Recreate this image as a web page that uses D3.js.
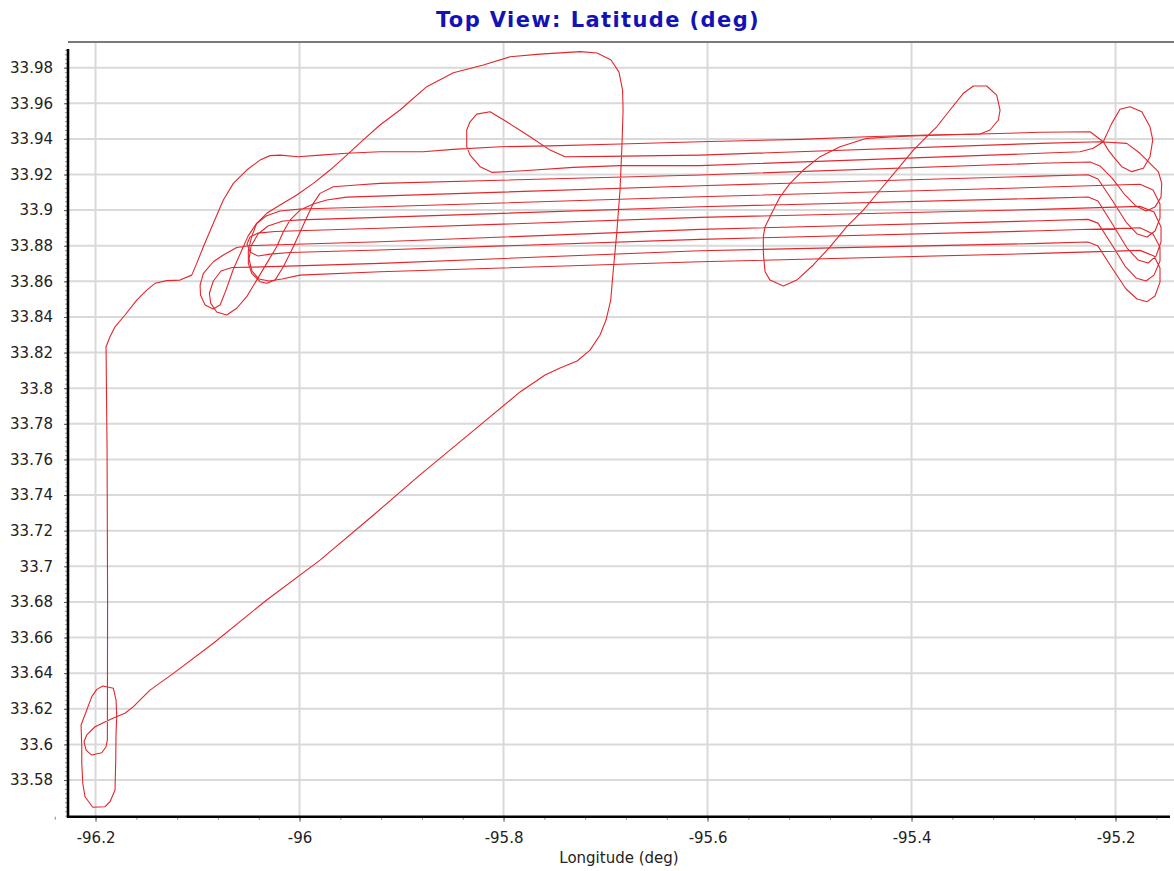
<!DOCTYPE html>
<html>
<head>
<meta charset="utf-8">
<script src="https://cdn.jsdelivr.net/npm/d3@7"></script>
<style>
  body { margin: 0; background: #fff; }
  svg text { font-family: "DejaVu Sans", Verdana, sans-serif; }
</style>
</head>
<body>
<svg id="chart" width="1174" height="871"></svg>
<script>
/*****************************/
/*** DATA (lon, lat in deg) ***/
/*****************************/
var xTickValues = [-96.2, -96, -95.8, -95.6, -95.4, -95.2];
var yTickValues = [33.58, 33.6, 33.62, 33.64, 33.66, 33.68, 33.7, 33.72, 33.74, 33.76, 33.78,
                   33.8, 33.82, 33.84, 33.86, 33.88, 33.9, 33.92, 33.94, 33.96, 33.98];
var lonExtent = [-96.227, -95.1466];
var latExtent = [33.5594, 33.9944];

//pattern flown round the field
var airportPattern = [
  [-96.1792, 33.6155], [-96.1799, 33.6062], [-96.1802, 33.5912], [-96.1809, 33.5744],
  [-96.1858, 33.5678], [-96.1907, 33.5650], [-96.2027, 33.5647], [-96.2103, 33.5706],
  [-96.2125, 33.5781], [-96.2135, 33.5894], [-96.2135, 33.5987], [-96.2142, 33.6109],
  [-96.2086, 33.6193], [-96.2037, 33.6268], [-96.1988, 33.6309], [-96.1929, 33.6328],
  [-96.1825, 33.6315], [-96.1799, 33.6249], [-96.1792, 33.6155]
];

//ferry legs + top lines of the survey
var ferryRoute = [
  [-95.9439, 33.9141], [-95.9669, 33.9131], [-95.9799, 33.9094], [-95.9865, 33.9038],
  [-95.9963, 33.8916], [-96.0061, 33.8794], [-96.0159, 33.8682], [-96.0240, 33.8607],
  [-96.0322, 33.8589], [-96.0387, 33.8598], [-96.0469, 33.8645], [-96.0502, 33.8701],
  [-96.0502, 33.8776], [-96.0469, 33.8851], [-96.0420, 33.8926], [-96.0322, 33.8982],
  [-96.0191, 33.9029], [-96.0027, 33.9085], [-95.9865, 33.9150], [-95.9701, 33.9225],
  [-95.9537, 33.9309], [-95.9375, 33.9394], [-95.9211, 33.9478], [-95.9015, 33.9562],
  [-95.8753, 33.9693], [-95.8492, 33.9771], [-95.8198, 33.9815], [-95.7936, 33.9861],
  [-95.7642, 33.9876], [-95.7250, 33.9890], [-95.7083, 33.9882], [-95.6946, 33.9843],
  [-95.6868, 33.9775], [-95.6833, 33.9674], [-95.6828, 33.9562], [-95.6838, 33.9377],
  [-95.6858, 33.9113], [-95.6890, 33.8871], [-95.6924, 33.8664], [-95.6949, 33.8495],
  [-95.6995, 33.8383], [-95.7054, 33.8299], [-95.7152, 33.8214], [-95.7279, 33.8153],
  [-95.7446, 33.8113], [-95.7593, 33.8074], [-95.7838, 33.7979], [-95.8230, 33.7793],
  [-95.8819, 33.7513], [-95.9309, 33.7271], [-95.9799, 33.7035], [-96.0322, 33.6811],
  [-96.0845, 33.6568], [-96.1237, 33.6399], [-96.1466, 33.6305], [-96.1629, 33.6212],
  [-96.1711, 33.6175], [-96.1809, 33.6152], [-96.1924, 33.6122], [-96.2005, 33.6099],
  [-96.2086, 33.6053], [-96.2113, 33.6015], [-96.2093, 33.5968], [-96.2037, 33.5940],
  [-96.1939, 33.5953], [-96.1897, 33.5987], [-96.1884, 33.6025], [-96.1882, 33.6811],
  [-96.1887, 33.7653], [-96.1897, 33.8233], [-96.1858, 33.8289], [-96.1809, 33.8345],
  [-96.1711, 33.8411], [-96.1596, 33.8495], [-96.1498, 33.8551], [-96.1417, 33.8589],
  [-96.1302, 33.8604], [-96.1172, 33.8607], [-96.1057, 33.8635], [-96.1008, 33.8701],
  [-96.0943, 33.8794], [-96.0845, 33.8926], [-96.0747, 33.9057], [-96.0649, 33.9150],
  [-96.0518, 33.9225], [-96.0387, 33.9281], [-96.0289, 33.9306], [-96.0191, 33.9309],
  [-96.0012, 33.9300], [-95.9799, 33.9309], [-95.9537, 33.9319], [-95.9211, 33.9328],
  [-95.8789, 33.9328], [-95.8495, 33.9341], [-95.8034, 33.9356], [-95.7544, 33.9361],
  [-95.6858, 33.9371], [-95.6074, 33.9384], [-95.5093, 33.9397], [-95.4439, 33.9412],
  [-95.3851, 33.9422], [-95.3328, 33.9427], [-95.2740, 33.9437], [-95.2250, 33.9440],
  [-95.2120, 33.9384], [-95.2071, 33.9337], [-95.2022, 33.9300], [-95.1939, 33.9244],
  [-95.1841, 33.9216], [-95.1727, 33.9235], [-95.1662, 33.9300], [-95.1635, 33.9394],
  [-95.1662, 33.9468], [-95.1743, 33.9552], [-95.1858, 33.9580], [-95.1956, 33.9566],
  [-95.2037, 33.9487], [-95.2120, 33.9384], [-95.2218, 33.9347], [-95.2348, 33.9328],
  [-95.2740, 33.9319], [-95.6074, 33.9250], [-95.6858, 33.9250], [-95.7316, 33.9240],
  [-95.7806, 33.9221], [-95.8116, 33.9212], [-95.8230, 33.9244], [-95.8328, 33.9309],
  [-95.8361, 33.9356], [-95.8361, 33.9450], [-95.8328, 33.9496], [-95.8263, 33.9539],
  [-95.8132, 33.9552], [-95.7969, 33.9496], [-95.7740, 33.9412], [-95.7544, 33.9337],
  [-95.7397, 33.9300], [-95.6988, 33.9302], [-95.6466, 33.9306], [-95.6074, 33.9309],
  [-95.2740, 33.9375], [-95.2152, 33.9384], [-95.1890, 33.9375], [-95.1760, 33.9319],
  [-95.1662, 33.9263], [-95.1580, 33.9216], [-95.1547, 33.9150], [-95.1554, 33.9073],
  [-95.1613, 33.9017], [-95.1701, 33.8995], [-95.1799, 33.9023], [-95.1907, 33.9085],
  [-95.2034, 33.9180], [-95.2152, 33.9248], [-95.2250, 33.9270], [-95.2740, 33.9263],
  [-95.6074, 33.9197], [-95.9211, 33.9150], [-95.9439, 33.9141]
];

//teardrop turn in the middle of the lines
var turnTeardrop = [
  [-95.3328, 33.9427], [-95.3230, 33.9450], [-95.3149, 33.9506], [-95.3132, 33.9562],
  [-95.3165, 33.9646], [-95.3263, 33.9697], [-95.3394, 33.9697], [-95.3492, 33.9656],
  [-95.3623, 33.9562], [-95.3753, 33.9468], [-95.3868, 33.9403], [-95.3982, 33.9337],
  [-95.4145, 33.9225], [-95.4309, 33.9113], [-95.4473, 33.9000], [-95.4635, 33.8907],
  [-95.4799, 33.8794], [-95.4963, 33.8692], [-95.5125, 33.8607], [-95.5257, 33.8574],
  [-95.5387, 33.8607], [-95.5436, 33.8654], [-95.5453, 33.8757], [-95.5453, 33.8851],
  [-95.5436, 33.8907], [-95.5355, 33.9000], [-95.5289, 33.9075], [-95.5191, 33.9150],
  [-95.5061, 33.9225], [-95.4897, 33.9300], [-95.4701, 33.9356], [-95.4439, 33.9403],
  [-95.4113, 33.9413], [-95.3851, 33.9419], [-95.3328, 33.9427]
];

//lower survey lines with their end turns
var surveyGrid = [
  [-95.9537, 33.9073], [-95.6074, 33.9137], [-95.2740, 33.9191], [-95.2270, 33.9199],
  [-95.2172, 33.9175], [-95.2034, 33.9057], [-95.1897, 33.8933], [-95.1789, 33.8866],
  [-95.1691, 33.8849], [-95.1613, 33.8883], [-95.1564, 33.8955], [-95.1564, 33.9034],
  [-95.1632, 33.9113], [-95.1760, 33.9145], [-95.2740, 33.9128], [-95.6074, 33.9075],
  [-95.9211, 33.9019], [-95.9995, 33.9006], [-96.0191, 33.8995], [-96.0328, 33.8967],
  [-96.0426, 33.8922], [-96.0505, 33.8854], [-96.0574, 33.8765], [-96.0652, 33.8664],
  [-96.0721, 33.8551], [-96.0779, 33.8467], [-96.0848, 33.8445], [-96.0926, 33.8467],
  [-96.0971, 33.8523], [-96.0975, 33.8579], [-96.0943, 33.8645], [-96.0845, 33.8710],
  [-96.0747, 33.8748], [-96.0616, 33.8790], [-96.0485, 33.8801], [-95.9211, 33.8822],
  [-95.6074, 33.8892], [-95.2740, 33.8940], [-95.2270, 33.8948], [-95.2172, 33.8927],
  [-95.2034, 33.8804], [-95.1907, 33.8686], [-95.1799, 33.8619], [-95.1701, 33.8602],
  [-95.1623, 33.8635], [-95.1564, 33.8714], [-95.1564, 33.8792], [-95.1632, 33.8866],
  [-95.1760, 33.8901], [-95.2740, 33.8884], [-95.6074, 33.8836], [-95.9211, 33.8776],
  [-96.0093, 33.8762], [-96.0289, 33.8753], [-96.0407, 33.8742], [-96.0485, 33.8765],
  [-96.0515, 33.8810], [-96.0485, 33.8849], [-96.0407, 33.8871], [-96.0240, 33.8880],
  [-96.0093, 33.8883], [-95.9211, 33.8898], [-95.6074, 33.8959], [-95.2740, 33.9004],
  [-95.1760, 33.9021], [-95.1623, 33.8989], [-95.1554, 33.8905], [-95.1554, 33.8821],
  [-95.1603, 33.8742], [-95.1681, 33.8703], [-95.1779, 33.8720], [-95.1887, 33.8787],
  [-95.2025, 33.8916], [-95.2172, 33.9051], [-95.2270, 33.9074], [-95.2740, 33.9066],
  [-95.6074, 33.9019], [-95.9211, 33.8959], [-95.9995, 33.8945], [-96.0162, 33.8939],
  [-96.0309, 33.8911], [-96.0407, 33.8866], [-96.0475, 33.8798], [-96.0495, 33.8725],
  [-96.0466, 33.8658], [-96.0397, 33.8613], [-96.0299, 33.8602], [-96.0172, 33.8613],
  [-95.9995, 33.8635], [-95.9211, 33.8654], [-95.6074, 33.8710], [-95.2740, 33.8757],
  [-95.1760, 33.8774], [-95.1623, 33.8742], [-95.1564, 33.8675], [-95.1564, 33.8596],
  [-95.1613, 33.8518], [-95.1691, 33.8486], [-95.1789, 33.8501], [-95.1897, 33.8557],
  [-95.2034, 33.8675], [-95.2172, 33.8798], [-95.2270, 33.8821], [-95.2740, 33.8813],
  [-95.6074, 33.8772], [-95.9211, 33.8701], [-96.0453, 33.8680], [-96.0662, 33.8678],
  [-96.0770, 33.8658], [-96.0845, 33.8602], [-96.0884, 33.8533], [-96.0871, 33.8478],
  [-96.0812, 33.8428], [-96.0714, 33.8411], [-96.0616, 33.8449], [-96.0518, 33.8514],
  [-96.0420, 33.8607], [-96.0322, 33.8701], [-96.0224, 33.8794], [-96.0159, 33.8879],
  [-96.0093, 33.8944], [-95.9995, 33.9000], [-95.9865, 33.9034], [-95.9733, 33.9057],
  [-95.9537, 33.9073]
];

var trackColor = '#e3262b';

/*****************************/
/*** CHART ***/
/*****************************/
var svg = d3.select('#chart');
var plot = {left: 68, right: 1170, top: 42, bottom: 816.7};

var x = d3.scaleLinear().domain(lonExtent).range([plot.left, plot.right]);
var y = d3.scaleLinear().domain(latExtent).range([plot.bottom, plot.top]);

function tickText(d) { return String(+d.toFixed(2)); }

//gridlines
var grid = svg.append('g').attr('class', 'grid');
grid.selectAll('line.gx')
  .data(xTickValues)
  .enter().append('line')
  .attr('class', 'gx')
  .attr('x1', function(d) { return x(d); })
  .attr('x2', function(d) { return x(d); })
  .attr('y1', plot.top)
  .attr('y2', plot.bottom)
  .attr('stroke', '#d9d9d9')
  .attr('stroke-width', 2);
grid.selectAll('line.gy')
  .data(yTickValues)
  .enter().append('line')
  .attr('class', 'gy')
  .attr('x1', plot.left)
  .attr('x2', 1174)
  .attr('y1', function(d) { return y(d); })
  .attr('y2', function(d) { return y(d); })
  .attr('stroke', '#d9d9d9')
  .attr('stroke-width', 2);

//top frame
svg.append('line')
  .attr('x1', plot.left).attr('x2', 1174)
  .attr('y1', plot.top).attr('y2', plot.top)
  .attr('stroke', '#7a7a7a').attr('stroke-width', 2);

//clip
svg.append('clipPath').attr('id', 'plotClip')
  .append('rect')
  .attr('x', plot.left).attr('y', plot.top)
  .attr('width', 1174 - plot.left).attr('height', plot.bottom - plot.top);

var line = d3.line()
  .x(function(d) { return x(d[0]); })
  .y(function(d) { return y(d[1]); });

var tracks = svg.append('g').attr('clip-path', 'url(#plotClip)');
[airportPattern, ferryRoute, turnTeardrop, surveyGrid].forEach(function(series) {
  tracks.append('path')
    .datum(series)
    .attr('d', line)
    .attr('fill', 'none')
    .attr('stroke', trackColor)
    .attr('stroke-width', 1.1)
    .attr('stroke-linejoin', 'round');
});

//minor ticks
var xMinor = d3.range(-96.24, -95.14, 0.04);
var yMinor = d3.range(33.56, 33.9941, 0.0025);

svg.append('g')
  .attr('transform', 'translate(0,' + plot.bottom + ')')
  .call(d3.axisBottom(x).tickValues(xMinor).tickSize(3).tickFormat(''))
  .call(function(g) {
    g.select('.domain').remove();
    g.selectAll('line').attr('stroke', '#888');
  });

svg.append('g')
  .attr('transform', 'translate(' + plot.left + ',0)')
  .call(d3.axisLeft(y).tickValues(yMinor.filter(function(v) { return y(v) > 49; })).tickSize(3).tickFormat(''))
  .call(function(g) {
    g.select('.domain').remove();
    g.selectAll('line').attr('stroke', '#999');
  });

//major axes
var xAxis = svg.append('g')
  .attr('transform', 'translate(0,' + plot.bottom + ')')
  .call(d3.axisBottom(x).tickValues(xTickValues).tickSize(5).tickPadding(10.5).tickFormat(tickText));
xAxis.select('.domain').remove();
xAxis.selectAll('line').attr('stroke', '#555');
xAxis.selectAll('text')
  .attr('font-size', 15)
  .attr('font-family', '"DejaVu Sans", Verdana, sans-serif')
  .attr('fill', '#222');

var yAxis = svg.append('g')
  .attr('transform', 'translate(' + plot.left + ',0)')
  .call(d3.axisLeft(y).tickValues(yTickValues).tickSize(4).tickPadding(11).tickFormat(tickText));
yAxis.select('.domain').remove();
yAxis.selectAll('line').attr('stroke', '#555');
yAxis.selectAll('text')
  .attr('font-size', 15)
  .attr('font-family', '"DejaVu Sans", Verdana, sans-serif')
  .attr('fill', '#222');

//axis lines
svg.append('line')
  .attr('x1', plot.left).attr('x2', plot.left)
  .attr('y1', 49).attr('y2', plot.bottom + 1)
  .attr('stroke', '#000').attr('stroke-width', 2.6);
svg.append('line')
  .attr('x1', plot.left - 1).attr('x2', plot.right)
  .attr('y1', plot.bottom).attr('y2', plot.bottom)
  .attr('stroke', '#000').attr('stroke-width', 2.4);

//titles
svg.append('text')
  .attr('x', 598)
  .attr('y', 27)
  .attr('text-anchor', 'middle')
  .attr('font-size', 21)
  .attr('font-weight', 'bold')
  .attr('letter-spacing', 1.4)
  .attr('fill', '#1313b5')
  .text('Top View: Latitude (deg)');

svg.append('text')
  .attr('x', 619)
  .attr('y', 863)
  .attr('text-anchor', 'middle')
  .attr('font-size', 15)
  .attr('fill', '#222')
  .text('Longitude (deg)');
</script>
</body>
</html>
